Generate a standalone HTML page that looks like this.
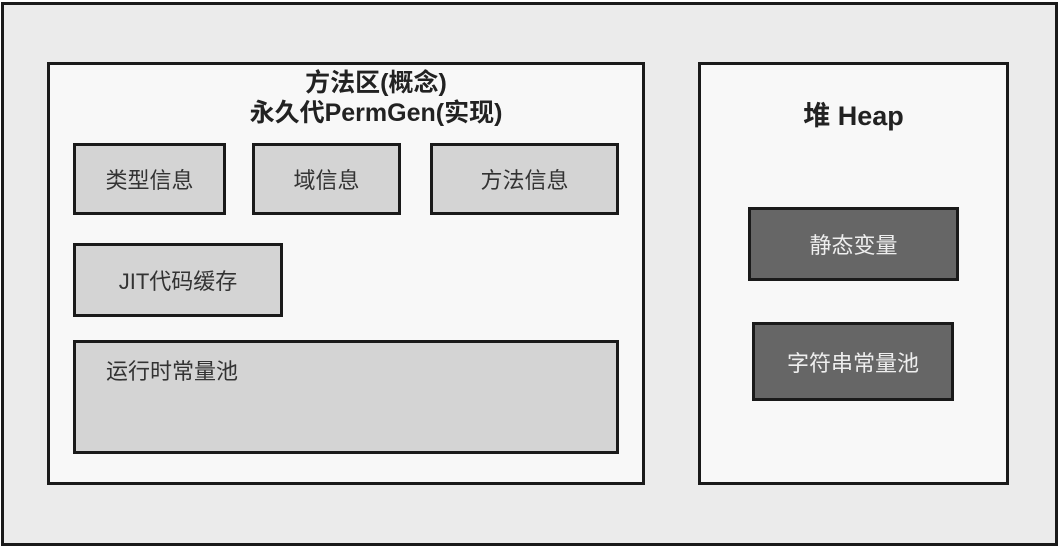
<!DOCTYPE html>
<html><head><meta charset="utf-8"><style>
body{margin:0;width:1064px;height:549px;background:#fff;position:relative;overflow:hidden;font-family:"Liberation Sans","Noto Sans CJK SC",sans-serif;}
.b{position:absolute;box-sizing:border-box;border:3px solid #1a1a1a;}
.g{background:#d4d4d4;color:#333;font-size:22px;display:flex;align-items:center;justify-content:center;}
.d{background:#666;color:#eee;font-size:22px;display:flex;align-items:center;justify-content:center;}
.t{position:absolute;text-align:center;font-weight:bold;color:#222;}
</style></head><body>
<div class="b" style="left:1px;top:2px;width:1057px;height:544px;background:#ebebeb"></div>
<div class="b" style="left:47px;top:62px;width:598px;height:423px;background:#f8f8f8"></div>
<div class="b" style="left:698px;top:62px;width:311px;height:423px;background:#f8f8f8"></div>
<div class="t" style="left:77px;width:598px;top:68px;font-size:25px;line-height:30px">方法区(概念)<br>永久代PermGen(实现)</div>
<div class="t" style="left:698px;width:311px;top:94px;font-size:27px">堆 Heap</div>
<div class="b g" style="left:73px;top:143px;width:153px;height:72px">类型信息</div>
<div class="b g" style="left:252px;top:143px;width:149px;height:72px">域信息</div>
<div class="b g" style="left:430px;top:143px;width:189px;height:72px">方法信息</div>
<div class="b g" style="left:73px;top:243px;width:210px;height:74px">JIT代码缓存</div>
<div class="b g" style="left:73px;top:340px;width:546px;height:114px;align-items:flex-start;justify-content:flex-start;padding:11px 0 0 30px">运行时常量池</div>
<div class="b d" style="left:748px;top:207px;width:211px;height:74px">静态变量</div>
<div class="b d" style="left:752px;top:322px;width:202px;height:79px">字符串常量池</div>
</body></html>
